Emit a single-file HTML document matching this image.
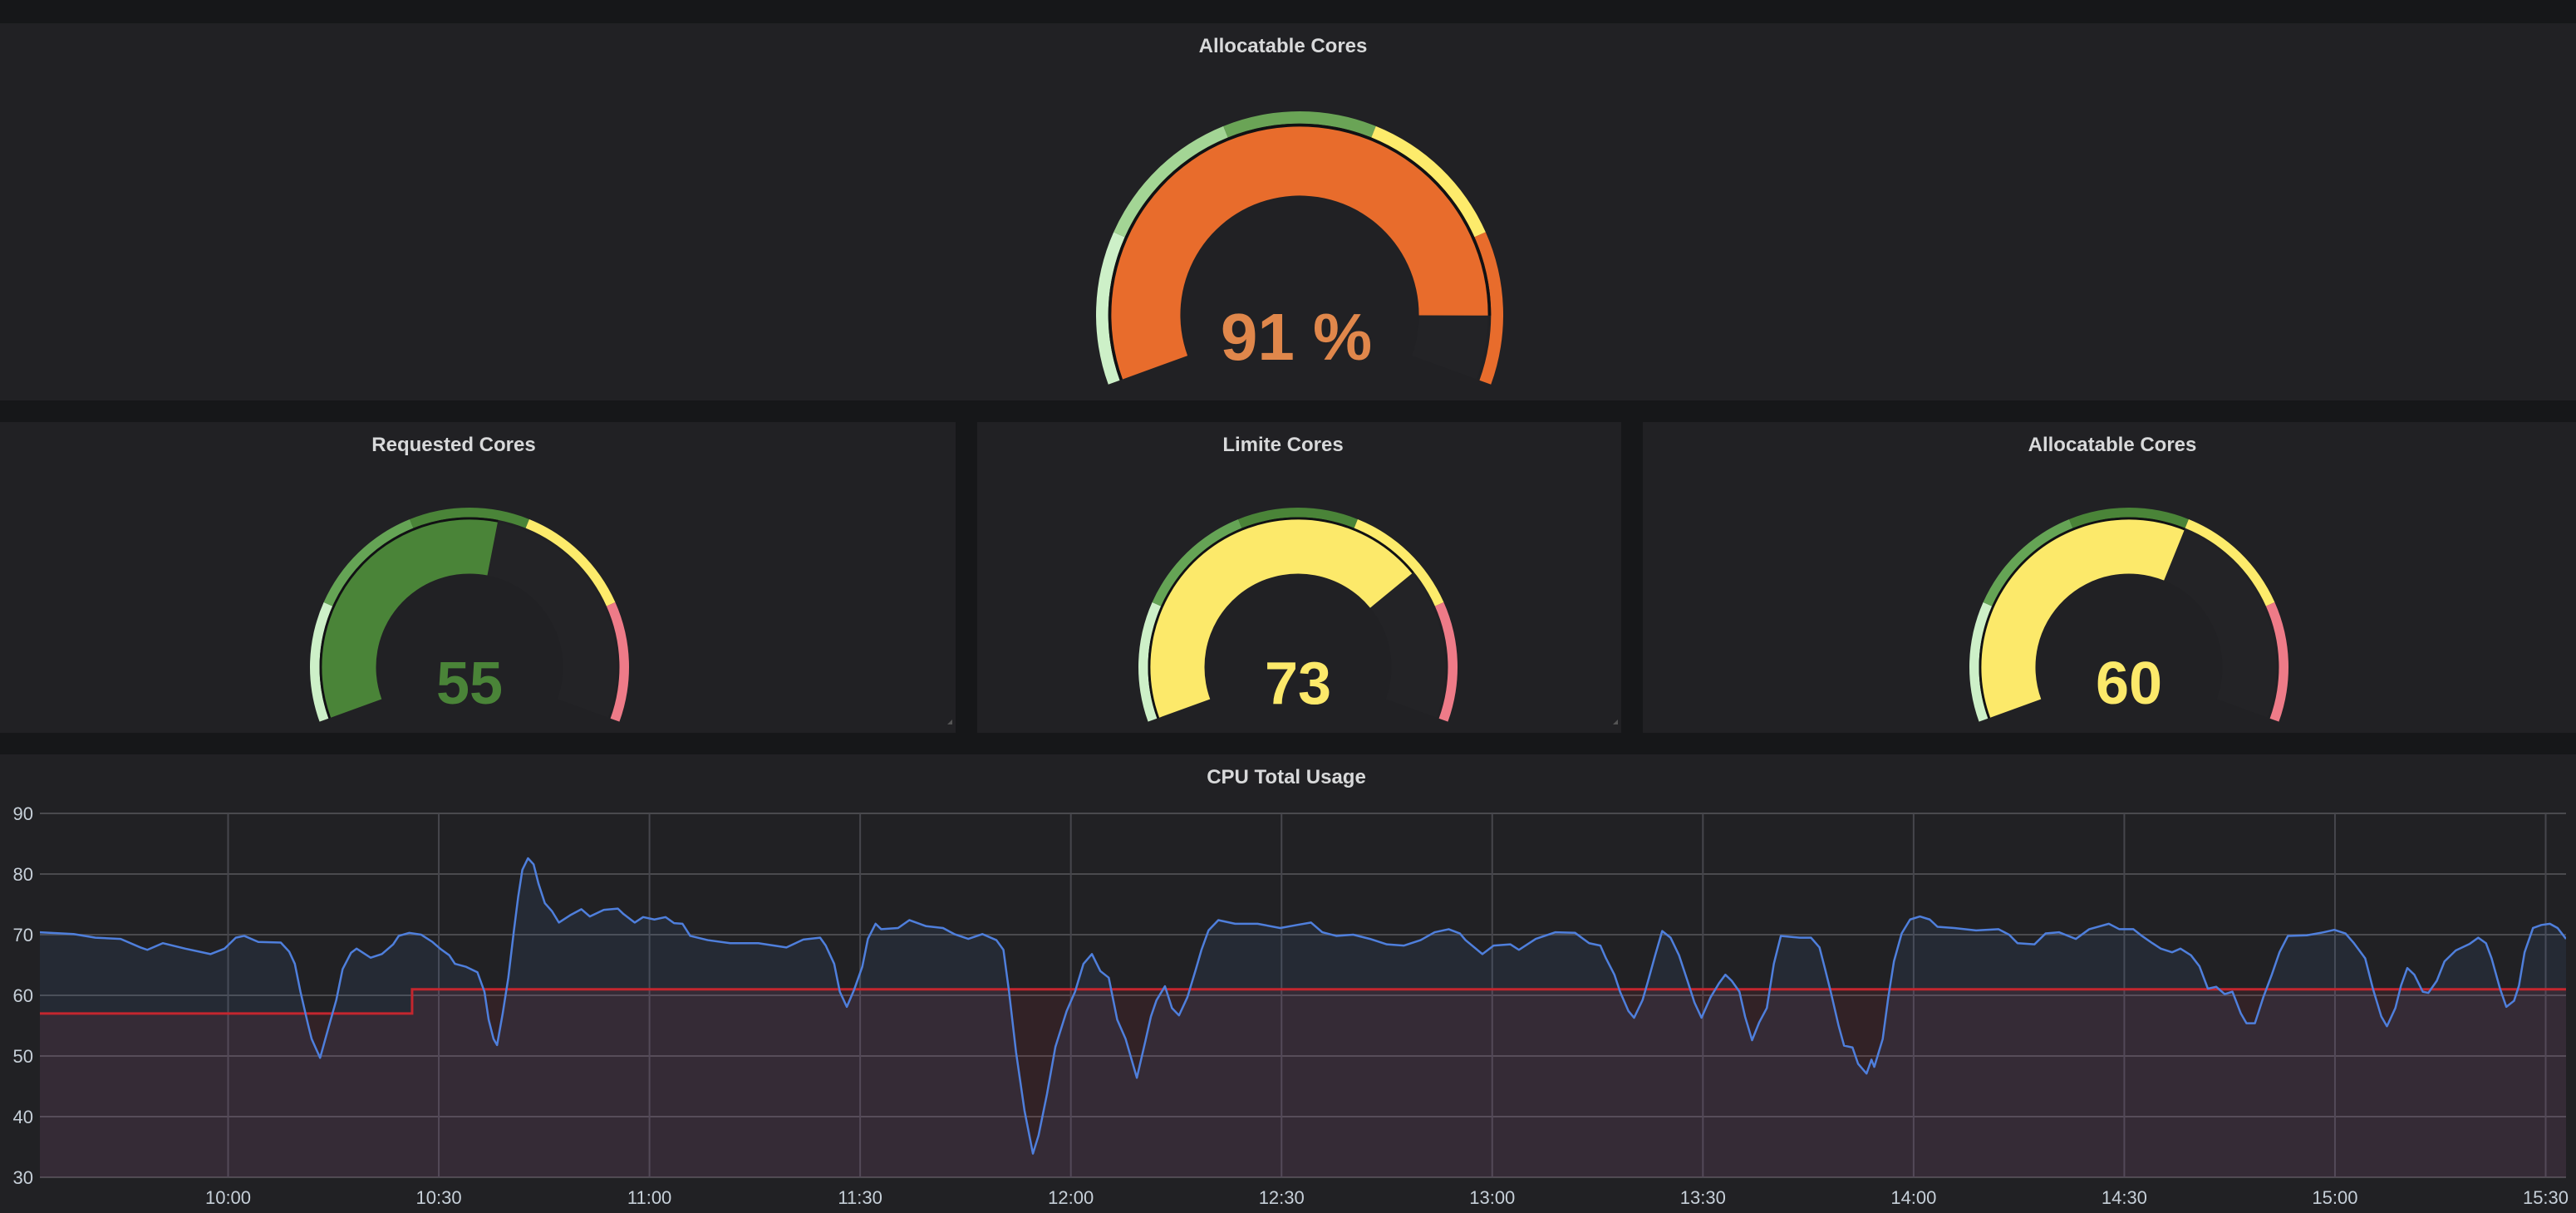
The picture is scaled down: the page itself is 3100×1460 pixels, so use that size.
<!DOCTYPE html>
<html><head><meta charset="utf-8"><style>
html,body{margin:0;padding:0;background:#161719;}
svg{display:block;}
text{font-family:"Liberation Sans",sans-serif;}
</style></head><body>
<svg id="root" width="3100" height="1460" viewBox="0 0 3100 1460" xmlns="http://www.w3.org/2000/svg">
<rect x="0" y="0" width="3100" height="1460" fill="#161719"/>
<rect x="0" y="28" width="3100" height="454" fill="#212124"/>
<rect x="0" y="508" width="1150" height="374" fill="#212124"/>
<rect x="1176" y="508" width="775" height="374" fill="#212124"/>
<rect x="1977" y="508" width="1123" height="374" fill="#212124"/>
<rect x="0" y="908" width="3100" height="552" fill="#212124"/>
<text x="1544" y="63" text-anchor="middle" font-size="24" font-weight="bold" fill="#d8d9da">Allocatable Cores</text>
<text x="546" y="543" text-anchor="middle" font-size="24" font-weight="bold" fill="#d8d9da">Requested Cores</text>
<text x="1544" y="543" text-anchor="middle" font-size="24" font-weight="bold" fill="#d8d9da">Limite Cores</text>
<text x="2542" y="543" text-anchor="middle" font-size="24" font-weight="bold" fill="#d8d9da">Allocatable Cores</text>
<text x="1548" y="943" text-anchor="middle" font-size="24" font-weight="bold" fill="#d8d9da">CPU Total Usage</text>
<path d="M1140 872 L1146 872 L1146 866 Z" fill="#555"/>
<path d="M1941 872 L1947 872 L1947 866 Z" fill="#555"/>
<g id="gauges"></g>
<g id="chart"></g>
</svg>
<script>
// ---------- Gauge data ----------
const gaugeValues = [91, 55, 73, 60];
const gaugeUnits = [" %", "", "", ""];
const thresholdSteps = [0, 20, 40, 60, 80];
const bigThresholdColors = ["#cdf0c8", "#a3d595", "#6aa456", "#fdeb6b", "#e86c2c"];
const smallThresholdColors = ["#cdf0c8", "#65a455", "#4a8438", "#fdeb6b", "#ee7b88"];
const smallFillColors = ["#cdf0c8", "#65a455", "#4a8438", "#fce96a", "#ee7b88"];

// ---------- Chart data ----------
const xTickLabels = ["10:00","10:30","11:00","11:30","12:00","12:30","13:00","13:30","14:00","14:30","15:00","15:30"];
const xTickMinutes = [0,30,60,90,120,150,180,210,240,270,300,330];
const yTickValues = [30,40,50,60,70,80,90];
const usageMinutes = [-26.8,-22,-18.9,-15.3,-12.5,-11.5,-9.3,-6.1,-2.5,-0.5,1.1,2.3,4.3,7.5,8.7,9.5,10.3,11.4,11.9,13.1,14.3,15.4,16.3,17.5,18.3,20.3,21.9,23.5,24.3,25.8,27.5,29.1,30.3,31.5,32.3,33.9,35.5,36.5,37.1,37.8,38.3,39.1,39.9,40.7,41.3,41.9,42.7,43.5,44.2,45.1,46.1,47.1,48.7,50.3,51.5,53.5,55.5,56.3,57.9,59.1,60.7,62.3,63.5,64.7,65.8,68.3,71.5,75.5,79.5,81.9,84.3,85.1,86.3,87.1,88.1,89.1,90.3,91.1,92.2,93,95.4,97,99.4,101.8,103.4,105.4,107.4,109.4,110.4,111.2,112.2,113.4,114.6,115.4,116.6,117.8,119.4,120.6,121.8,123,124.2,125.4,126.6,127.8,129.4,130.6,131.4,132.2,133.4,134.4,135.4,136.6,137.8,138.6,139.6,141,143.4,146.6,149.8,152.2,154.2,155.8,157.8,160.2,162.6,165,167.4,169.8,171.8,173.8,175.4,176.2,178.6,180.2,182.6,183.8,186.2,189,191.8,193.8,195.4,196.2,197.4,198.2,199.4,200.2,201.4,202.2,203.2,204.2,205.4,206.6,207.8,208.8,209.8,211.1,212.3,213.2,214.1,215.2,216,217,218,219.1,220.1,221.1,223.8,225.4,226.6,227.4,228.2,229.3,230.1,231.3,232.1,233.3,234,234.4,235.6,236.4,237.2,238.3,239.5,240.9,242.3,243.4,245.8,248.9,252.1,253.6,254.8,257.2,258.8,260.7,263.1,265,267.8,269.3,271.3,272.5,274,275.2,276.8,278,279.5,280.7,281.9,283.1,284.3,285.4,286.6,287.4,288.6,289.8,291,292.1,293.3,296,298.4,299.9,301.5,302.7,304.3,305.4,306.6,307.4,308.6,309.4,310.3,311.3,312.5,313.3,314.5,315.6,317.2,319.2,320.4,321.5,322.3,323.5,324.4,325.5,326.2,327,328.2,329.4,330.6,331.7,332.9];
const usageValues = [70.4,70.1,69.5,69.3,67.9,67.5,68.6,67.7,66.8,67.7,69.5,69.8,68.8,68.7,67.2,65.2,60.6,55.1,52.8,49.7,54.7,59.2,64.3,67,67.7,66.2,66.8,68.4,69.8,70.3,70,68.8,67.6,66.6,65.2,64.7,63.8,60.6,56,52.8,51.8,57,62.9,70.7,76.2,80.7,82.6,81.6,78.4,75.2,73.9,72,73.2,74.2,73,74.1,74.3,73.4,72,72.9,72.5,72.9,71.9,71.8,69.8,69.1,68.6,68.6,67.9,69.2,69.5,68.2,65.2,60.6,58.1,60.8,64.7,69.3,71.8,70.9,71.1,72.4,71.4,71.1,70.1,69.3,70.1,69.1,67.5,60.6,50.6,41,33.9,36.9,43.7,51.5,57.4,60.6,65.2,66.8,64,62.9,56,52.8,46.4,52.4,56.5,59.2,61.5,57.9,56.7,59.7,64.3,67.5,70.7,72.4,71.8,71.8,71.1,71.6,72,70.4,69.8,70,69.3,68.4,68.2,69.1,70.4,70.9,70.2,69.1,66.8,68.2,68.4,67.5,69.3,70.4,70.3,68.6,68.2,66.1,63.4,60.6,57.4,56.3,59.2,62.4,66.6,70.6,69.5,66.6,62.4,58.8,56.3,59.7,62,63.4,62.4,60.6,56.5,52.6,55.5,57.9,65.2,69.8,69.5,69.5,67.9,64.3,60.6,55.1,51.7,51.4,48.7,47.1,49.4,48.2,52.8,59.7,65.6,70.2,72.5,73,72.5,71.3,71.1,70.7,70.9,70,68.6,68.4,70.2,70.4,69.3,70.9,71.8,70.9,70.9,69.8,68.6,67.7,67.1,67.7,66.6,64.8,61.1,61.4,60.2,60.6,57,55.4,55.4,59.7,63.4,67.1,69.8,69.9,70.4,70.8,70.2,68.6,66.1,61.1,56.5,54.9,57.9,61.6,64.5,63.4,60.6,60.4,62.4,65.6,67.4,68.5,69.5,68.6,66.1,61.1,58.1,59.1,61.6,67.1,71.1,71.6,71.8,71.1,69.3];
const limitMinutes = [-26.8, 26.2];
const limitValues = [57, 61];
const chartEndMinute = 333.5;

const NS = "http://www.w3.org/2000/svg";
function mk(tag, attrs, parent){const e=document.createElementNS(NS,tag);for(const k in attrs)e.setAttribute(k,attrs[k]);parent.appendChild(e);return e;}

// ---------- Gauges ----------
const gG = document.getElementById("gauges");
const START=200, SWEEP=220;
function ang(v){return START - SWEEP*v/100;}
function pt(cx,cy,r,a){const t=a*Math.PI/180;return [cx+r*Math.cos(t), cy-r*Math.sin(t)];}
function sector(cx,cy,r1,r2,a1,a2){
  const large=(a1-a2)>180?1:0;
  const p1=pt(cx,cy,r2,a1),p2=pt(cx,cy,r2,a2),p3=pt(cx,cy,r1,a2),p4=pt(cx,cy,r1,a1);
  return `M${p1[0]},${p1[1]} A${r2},${r2} 0 ${large} 1 ${p2[0]},${p2[1]} L${p3[0]},${p3[1]} A${r1},${r1} 0 ${large} 0 ${p4[0]},${p4[1]} Z`;
}
function colorFor(v, colors){let c=colors[0];for(let i=0;i<thresholdSteps.length;i++){if(v>=thresholdSteps[i])c=colors[i];}return c;}
const gaugeCenters = [[1564,379,245],[565,803,192],[1562,803,192],[2562,803,192]];
const gaugeNames = ["gauge-allocatable-top","gauge-requested","gauge-limite","gauge-allocatable"];
gaugeValues.forEach((val,gi)=>{
  const [cx,cy,R]=gaugeCenters[gi];
  const big=gi===0;
  const bandColors=big?bigThresholdColors:smallThresholdColors;
  const g=mk("g",{},gG);
  
  
  const bg=mk("path",{d:sector(cx,cy,R*0.586,R*0.925,ang(0),ang(100)),fill:"#232326"},g);
  
  
  for(let i=0;i<thresholdSteps.length;i++){
    const a=thresholdSteps[i], b=i+1<thresholdSteps.length?thresholdSteps[i+1]:100;
    const p=mk("path",{d:sector(cx,cy,R*0.94,R,ang(a),ang(b)),fill:bandColors[i]},g);
    
    
  }
  const sep=mk("path",{d:sector(cx,cy,R*0.925,R*0.94,ang(0),ang(val)),fill:"#111113"},g);
  
  
  const fillCol=big?colorFor(val,bigThresholdColors):colorFor(val,smallFillColors);
  const f=mk("path",{d:sector(cx,cy,R*0.586,R*0.925,ang(0),ang(val)),fill:fillCol},g);
  
  
  const txtCol=big?"#e0874b":fillCol;
  const t=mk("text",{x:cx-(big?4:0),y:big?cy+54:cy+44,"text-anchor":"middle","font-size":big?80:72,"font-weight":"bold",fill:txtCol},g);
  t.textContent=val+gaugeUnits[gi];
  
  
});

// ---------- Chart ----------
const cG=document.getElementById("chart");
const L=48,Rr=3088,T=979,B=1417;
function X(m){return 274.5+m*8.4515;}
function Y(v){return T+(90-v)*(B-T)/60;}
const clip=mk("clipPath",{id:"plotclip"},cG);
mk("rect",{x:L,y:T-2,width:Rr-L,height:B-T+2},clip);
yTickValues.forEach(v=>{
  const ln=mk("line",{x1:L,x2:Rr,y1:Y(v),y2:Y(v),stroke:"#4a4a4e","stroke-width":2},cG);
  
  
  const tx=mk("text",{x:40,y:Y(v)+8,"text-anchor":"end","font-size":22,fill:"#c7d0d9"},cG);
  tx.textContent=v;
  
  
});
xTickMinutes.forEach((m,i)=>{
  const ln=mk("line",{x1:X(m),x2:X(m),y1:T,y2:B,stroke:"#46464c","stroke-width":2},cG);
  
  
  const tx=mk("text",{x:X(m),y:1449,"text-anchor":"middle","font-size":22,fill:"#c7d0d9"},cG);
  tx.textContent=xTickLabels[i];
  
  
});
const plot=mk("g",{"clip-path":"url(#plotclip)"},cG);


let lp=`M${X(limitMinutes[0])},${Y(limitValues[0])}`;
for(let i=1;i<limitMinutes.length;i++){lp+=` L${X(limitMinutes[i])},${Y(limitValues[i-1])} L${X(limitMinutes[i])},${Y(limitValues[i])}`;}
lp+=` L${X(chartEndMinute)},${Y(limitValues[limitValues.length-1])}`;
const lfill=mk("path",{d:lp+` L${X(chartEndMinute)},${B} L${X(limitMinutes[0])},${B} Z`,fill:"rgba(224,47,68,0.09)"},plot);


let up=`M${X(usageMinutes[0])},${Y(usageValues[0])}`;
for(let i=1;i<usageMinutes.length;i++)up+=` L${X(usageMinutes[i])},${Y(usageValues[i])}`;
const ufill=mk("path",{d:up+` L${X(usageMinutes[usageMinutes.length-1])},${B} L${X(usageMinutes[0])},${B} Z`,fill:"rgba(87,148,242,0.08)"},plot);


const lline=mk("path",{d:lp,fill:"none",stroke:"#c4262e","stroke-width":3},plot);


const uline=mk("path",{d:up,fill:"none",stroke:"#4f7fdc","stroke-width":2.5,"stroke-linejoin":"round"},plot);


</script>
</body></html>
